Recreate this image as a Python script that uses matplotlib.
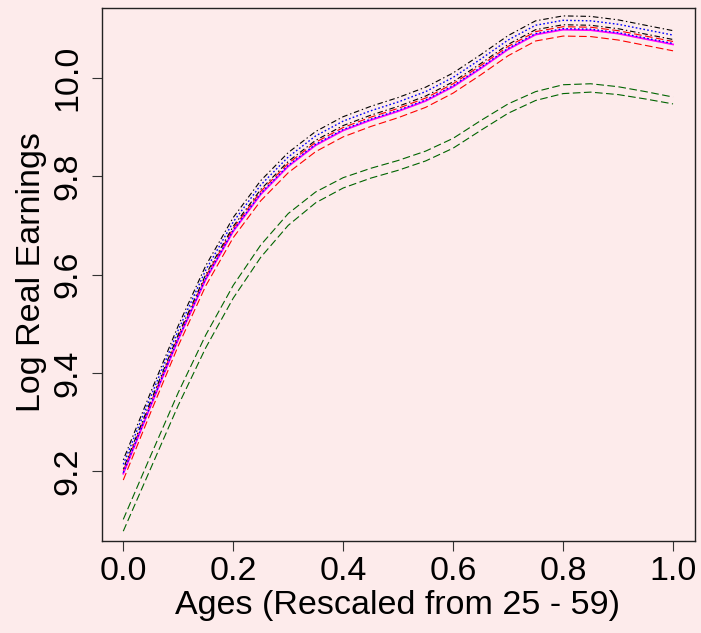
"""
Log real earnings age profiles (rescaled ages), R-style base plot look
"""

import matplotlib.pyplot as plt

plt.rcParams['font.family'] = ['Liberation Sans', 'DejaVu Sans']
plt.rcParams['lines.scale_dashes'] = False

BG = '#FDEBEB'

# ages rescaled to [0, 1]
ages = [0.00, 0.05, 0.10, 0.15, 0.20, 0.25, 0.30, 0.35, 0.40, 0.45, 0.50,
        0.55, 0.60, 0.65, 0.70, 0.75, 0.80, 0.85, 0.90, 0.95, 1.00]

# main estimate (solid magenta)
est_main = [9.195, 9.333, 9.468, 9.590, 9.688, 9.763, 9.820, 9.863, 9.893, 9.914, 9.932,
            9.953, 9.982, 10.019, 10.058, 10.088, 10.098, 10.097, 10.090, 10.079, 10.068]

black_upper = [9.223, 9.361, 9.496, 9.618, 9.716, 9.791, 9.848, 9.891, 9.921, 9.942, 9.960,
               9.981, 10.010, 10.047, 10.086, 10.116, 10.126, 10.125, 10.118, 10.107, 10.096]
black_lower = [9.205, 9.343, 9.478, 9.600, 9.698, 9.773, 9.830, 9.873, 9.903, 9.924, 9.942,
               9.963, 9.992, 10.029, 10.068, 10.098, 10.108, 10.107, 10.100, 10.089, 10.078]

blue_upper = [9.214, 9.352, 9.487, 9.609, 9.707, 9.782, 9.839, 9.882, 9.912, 9.933, 9.951,
              9.972, 10.001, 10.038, 10.077, 10.107, 10.117, 10.116, 10.109, 10.098, 10.087]
blue_lower = [9.197, 9.335, 9.470, 9.592, 9.690, 9.765, 9.822, 9.865, 9.895, 9.916, 9.934,
              9.955, 9.984, 10.021, 10.060, 10.090, 10.100, 10.099, 10.092, 10.081, 10.070]

red_upper = [9.201, 9.339, 9.474, 9.596, 9.694, 9.769, 9.826, 9.869, 9.899, 9.920, 9.938,
             9.959, 9.988, 10.025, 10.064, 10.094, 10.104, 10.103, 10.096, 10.085, 10.074]
red_lower = [9.182, 9.320, 9.455, 9.577, 9.675, 9.750, 9.807, 9.850, 9.880, 9.901, 9.919,
             9.940, 9.969, 10.006, 10.045, 10.075, 10.085, 10.084, 10.077, 10.066, 10.055]

green_upper = [9.102, 9.232, 9.360, 9.477, 9.578, 9.660, 9.724, 9.768, 9.797, 9.816, 9.832,
               9.851, 9.877, 9.913, 9.947, 9.972, 9.986, 9.988, 9.982, 9.972, 9.961]
green_lower = [9.078, 9.206, 9.334, 9.451, 9.552, 9.635, 9.700, 9.746, 9.776, 9.796, 9.812,
               9.831, 9.857, 9.893, 9.928, 9.954, 9.968, 9.971, 9.966, 9.957, 9.947]

x_ticks = [0.0, 0.2, 0.4, 0.6, 0.8, 1.0]
y_ticks = [9.2, 9.4, 9.6, 9.8, 10.0]

# line styles (dash patterns in points)
DASHED = (0, (5.5, 2.5))
DOTTED = (0, (1.2, 1.6))
DASHDOT = (0, (1.0, 2.0, 4.0, 2.0))

fig = plt.figure(figsize=(7.01, 6.33), dpi=100, facecolor=BG)
ax = fig.add_axes([0.1455, 0.1453, 0.846, 0.842], facecolor=BG)

lw = 0.8
ax.plot(ages, green_upper, color='darkgreen', lw=lw, linestyle=DASHED)
ax.plot(ages, green_lower, color='darkgreen', lw=lw, linestyle=DASHED)
ax.plot(ages, red_upper, color='red', lw=lw, linestyle=DASHED)
ax.plot(ages, red_lower, color='red', lw=lw, linestyle=DASHED)
ax.plot(ages, black_upper, color='black', lw=lw, linestyle=DASHDOT)
ax.plot(ages, black_lower, color='black', lw=lw, linestyle=DASHDOT)
ax.plot(ages, est_main, color='magenta', lw=1.3, linestyle='-')
ax.plot(ages, blue_upper, color='blue', lw=1.0, linestyle=DOTTED)
ax.plot(ages, blue_lower, color='blue', lw=1.0, linestyle=DOTTED)

ax.set_xlim(-0.0387, 1.04)
ax.set_ylim(9.058, 10.142)

ax.set_xticks(x_ticks)
ax.set_xticklabels([f'{v:.1f}' for v in x_ticks])
ax.set_yticks(y_ticks)
ax.set_yticklabels([f'{v:.1f}' for v in y_ticks], rotation=90, va='center')

ax.tick_params(axis='both', direction='out', length=7.5, width=0.8,
               color='#333333', labelsize=24.5, labelcolor='black')
ax.tick_params(axis='x', pad=3)
ax.tick_params(axis='y', pad=6)
for spine in ax.spines.values():
    spine.set_linewidth(1.0)
    spine.set_color('#222222')

fig.text(0.567, 0.043, 'Ages (Rescaled from 25 - 59)', ha='center', va='center',
         fontsize=24.5, color='black')
fig.text(32 / 701, 1 - 272 / 633, 'Log Real Earnings', ha='center', va='center',
         rotation=90, fontsize=24.5, color='black')

plt.savefig('out.png', dpi=100, facecolor=BG)
plt.close()
